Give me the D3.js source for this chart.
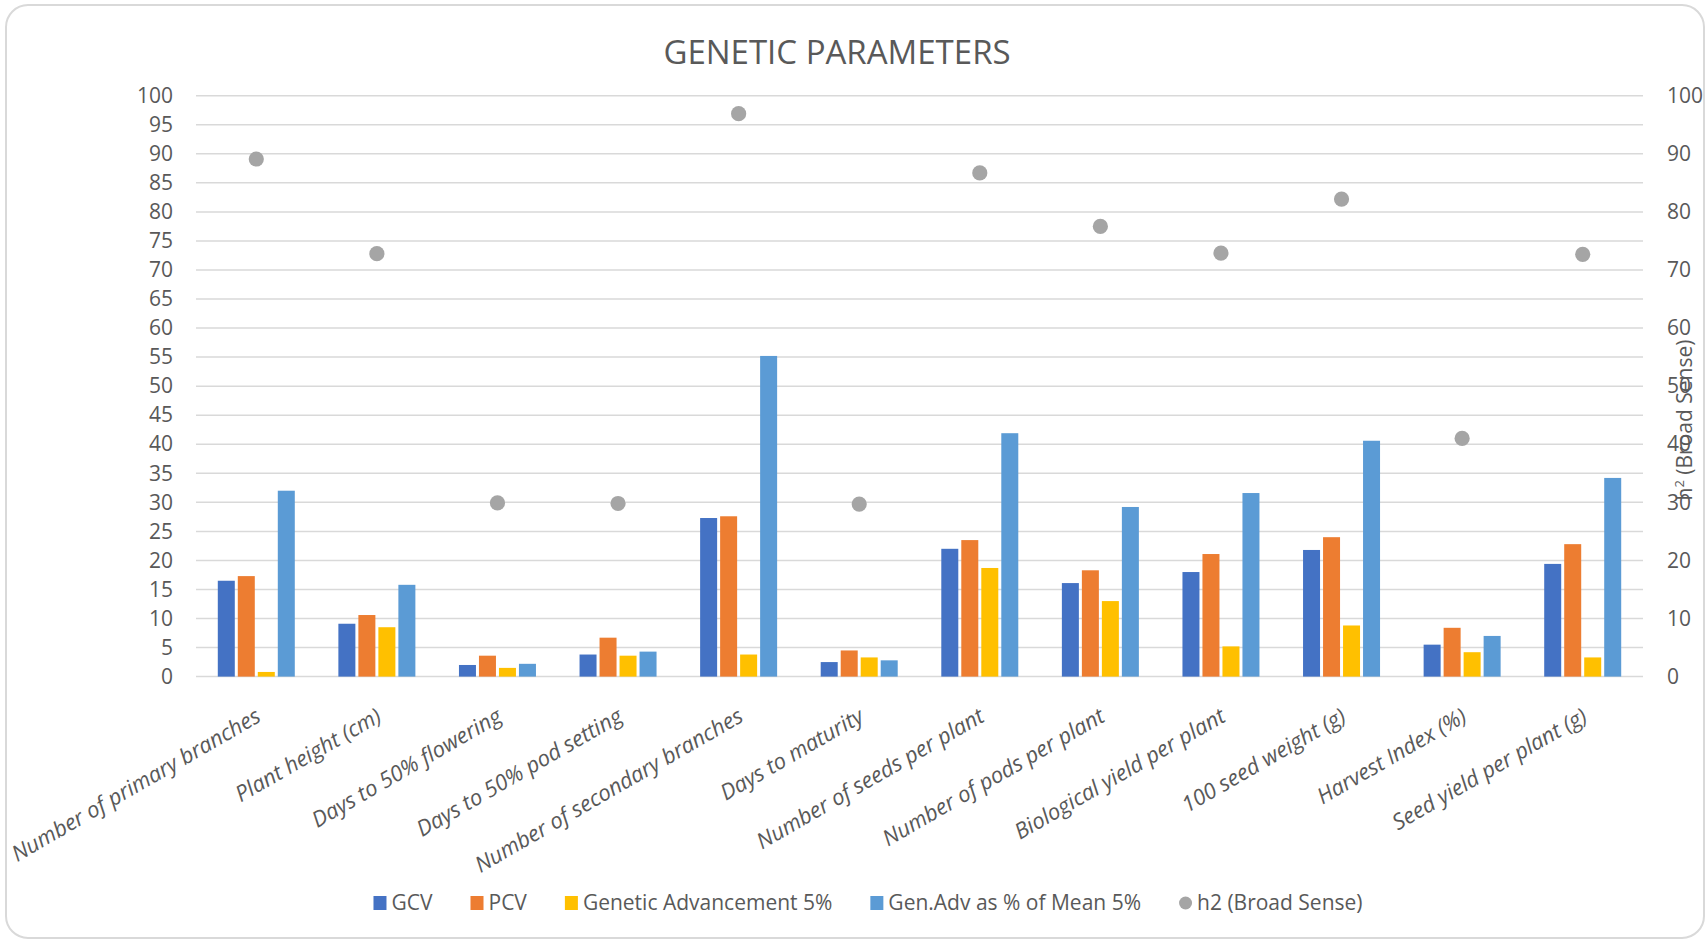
<!DOCTYPE html>
<html>
<head>
<meta charset="utf-8">
<script src="https://cdn.jsdelivr.net/npm/d3@7/dist/d3.min.js"></script>
<style>
  html, body { margin: 0; padding: 0; background: #fff; }
  svg { display: block; font-family: "Open Sans", sans-serif; }
</style>
</head>
<body>
<svg id="chart" width="1708" height="941"></svg>
<script>
const categories = [
  "Number of primary branches", "Plant height (cm)", "Days to 50% flowering",
  "Days to 50% pod setting", "Number of secondary branches", "Days to maturity",
  "Number of seeds per plant", "Number of pods per plant", "Biological yield per plant",
  "100 seed weight (g)", "Harvest Index (%)", "Seed yield per plant (g)"
];
const seriesNames = ["GCV", "PCV", "Genetic Advancement 5%", "Gen.Adv as % of Mean 5%"];
const gcv    = [16.5, 9.1, 2.0, 3.8, 27.3, 2.5, 22.0, 16.1, 18.0, 21.8, 5.5, 19.4];
const pcv    = [17.3, 10.6, 3.6, 6.7, 27.6, 4.5, 23.5, 18.3, 21.1, 24.0, 8.4, 22.8];
const genAdv = [0.8, 8.5, 1.5, 3.6, 3.8, 3.3, 18.7, 13.0, 5.2, 8.8, 4.2, 3.3];
const genAdvPct = [32.0, 15.8, 2.2, 4.3, 55.2, 2.8, 41.9, 29.2, 31.6, 40.6, 7.0, 34.2];
const h2     = [89.1, 72.8, 29.9, 29.8, 96.9, 29.7, 86.7, 77.5, 72.9, 82.2, 41.0, 72.7];
const leftTicks = d3.range(0, 101, 5);
const rightTicks = d3.range(0, 101, 10);
const colors = ["#4472C4", "#ED7D31", "#FFC000", "#5B9BD5"];
const h2Color = "#A5A5A5";
const textColor = "#595959";
const gridColor = "#D9D9D9";

const barSeries = [gcv, pcv, genAdv, genAdvPct];

const svg = d3.select("#chart");
const W = 1708, H = 941;
const m = { left: 196, right: 1643, top: 95.7, bottom: 676.6 };

// outer border
svg.append("rect")
  .attr("x", 6).attr("y", 5).attr("width", W - 10).attr("height", H - 8)
  .attr("rx", 22).attr("ry", 22)
  .attr("fill", "#fff").attr("stroke", gridColor).attr("stroke-width", 2);

// title
svg.append("text")
  .attr("x", 837).attr("y", 64)
  .attr("text-anchor", "middle")
  .attr("font-size", 33)
  .attr("fill", textColor)
  .text("GENETIC PARAMETERS");

const x0 = d3.scaleBand().domain(categories).range([m.left, m.right]).paddingInner(0).paddingOuter(0);
const groupW = 77;
const x1 = d3.scaleBand().domain(seriesNames)
  .range([(x0.bandwidth() - groupW) / 2, (x0.bandwidth() + groupW) / 2])
  .paddingInner(0.15).paddingOuter(0);
const y = d3.scaleLinear().domain([0, 100]).range([m.bottom, m.top]);
const y2 = d3.scaleLinear().domain([0, 100]).range([m.bottom, m.top]);

// gridlines
svg.append("g").selectAll("line").data(leftTicks).join("line")
  .attr("x1", m.left).attr("x2", m.right)
  .attr("y1", d => y(d)).attr("y2", d => y(d))
  .attr("stroke", gridColor).attr("stroke-width", 1.5);

// left axis
const gl = svg.append("g").attr("transform", `translate(${m.left - 23},0)`)
  .call(d3.axisLeft(y).tickValues(leftTicks).tickSize(0).tickPadding(0));
gl.select(".domain").remove();
gl.selectAll("text").attr("font-size", 21).attr("fill", textColor)
  .attr("font-family", "'Open Sans', sans-serif");

// right axis
const gr = svg.append("g").attr("transform", `translate(${m.right + 24},0)`)
  .call(d3.axisRight(y2).tickValues(rightTicks).tickSize(0).tickPadding(0));
gr.select(".domain").remove();
gr.selectAll("text").attr("font-size", 21).attr("fill", textColor)
  .attr("font-family", "'Open Sans', sans-serif");

// right axis title
const rt = svg.append("text")
  .attr("transform", "translate(1692,420) rotate(-90)")
  .attr("text-anchor", "middle")
  .attr("font-size", 21).attr("fill", textColor);
rt.append("tspan").text("h");
rt.append("tspan").attr("font-size", 13).attr("dy", -8).text("2");
rt.append("tspan").attr("dy", 8).text(" (Broad Sense)");

// bars
const groups = svg.append("g").selectAll("g").data(categories).join("g")
  .attr("transform", d => `translate(${x0(d)},0)`);
groups.each(function(cat, i) {
  d3.select(this).selectAll("rect")
    .data(seriesNames.map((s, k) => ({ s, k, v: barSeries[k][i] })))
    .join("rect")
    .attr("x", d => x1(d.s))
    .attr("width", x1.bandwidth())
    .attr("y", d => y(d.v))
    .attr("height", d => y(0) - y(d.v))
    .attr("fill", d => colors[d.k]);
});

// h2 dots
svg.append("g").selectAll("circle").data(h2).join("circle")
  .attr("cx", (d, i) => x0(categories[i]) + x0.bandwidth() / 2)
  .attr("cy", d => y2(d))
  .attr("r", 7.6)
  .attr("fill", h2Color);

// category labels
svg.append("g").selectAll("text").data(categories).join("text")
  .attr("transform", d => `translate(${x0(d) + x0.bandwidth() / 2 + 6},${m.bottom + 44}) rotate(-30)`)
  .attr("text-anchor", "end")
  .attr("font-size", 22)
  .attr("font-style", "italic")
  .attr("fill", textColor)
  .text(d => d);

// legend
const legendItems = seriesNames.map((s, k) => ({ name: s, color: colors[k], type: "rect" }))
  .concat([{ name: "h2 (Broad Sense)", color: h2Color, type: "circle" }]);
const lg = svg.append("g");
let cx = 0;
const ly = 903;
legendItems.forEach((it) => {
  const g = lg.append("g").attr("transform", `translate(${cx},0)`);
  if (it.type === "rect") {
    g.append("rect").attr("x", 0).attr("y", ly - 7).attr("width", 13).attr("height", 14).attr("fill", it.color);
  } else {
    g.append("circle").attr("cx", 6.5).attr("cy", ly).attr("r", 6.5).attr("fill", it.color);
  }
  const t = g.append("text").attr("x", 18).attr("y", ly).attr("dy", "0.35em")
    .attr("font-size", 21).attr("fill", textColor).text(it.name);
  const w = t.node().getComputedTextLength();
  cx += 18 + w + 38;
});
const totalW = cx - 38;
lg.attr("transform", `translate(${868 - totalW / 2},0)`);
</script>
</body>
</html>
